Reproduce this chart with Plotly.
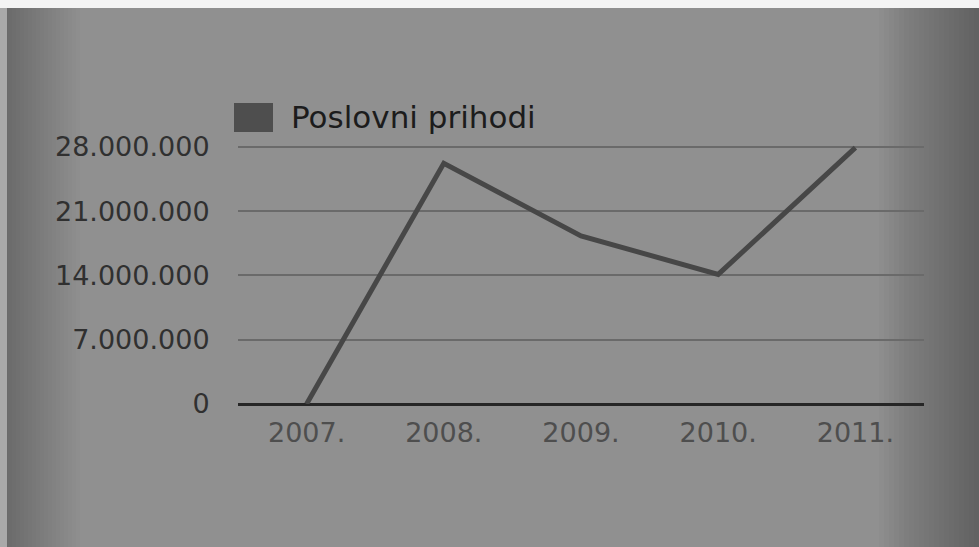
import plotly.graph_objects as go

# ---- data ----
years = ["2007.", "2008.", "2009.", "2010.", "2011."]
prihodi = [0, 26200000, 18300000, 14100000, 27900000]
series_name = "Poslovni prihodi"
y_tickvals = [0, 7000000, 14000000, 21000000, 28000000]
y_ticktext = ["0", "7.000.000", "14.000.000", "21.000.000", "28.000.000"]

W, H = 979, 547
L, R, T, B = 238, 55, 144, 143
PW, PH = W - L - R, H - T - B
FONT = "DejaVu Sans"


def px(x):
    return (x - L) / PW


def py(y):
    return (H - B - y) / PH


fig = go.Figure()
fig.add_trace(go.Scatter(
    x=years, y=prihodi, mode="lines",
    line=dict(color="#474747", width=5),
    showlegend=False, hoverinfo="skip",
))

shapes = []
# soft darkening towards the left and right edges (many thin steps)
for i in range(20):
    w = 100 - i * 5
    shapes.append(dict(type="rect", xref="paper", yref="paper", layer="below",
                       x0=px(0), x1=px(w * 0.8), y0=py(H), y1=py(0),
                       fillcolor="rgba(0,0,0,0.011)", line=dict(width=0)))
    shapes.append(dict(type="rect", xref="paper", yref="paper", layer="below",
                       x0=px(W - w), x1=px(W), y0=py(H), y1=py(0),
                       fillcolor="rgba(0,0,0,0.016)", line=dict(width=0)))
# white page strip at the top, lighter strip at the left edge
shapes.append(dict(type="rect", xref="paper", yref="paper", layer="above",
                   x0=px(0), x1=px(W), y0=py(8), y1=py(0),
                   fillcolor="#f4f4f4", line=dict(width=0)))
shapes.append(dict(type="rect", xref="paper", yref="paper", layer="above",
                   x0=px(0), x1=px(7), y0=py(H), y1=py(8),
                   fillcolor="#a9a9a9", line=dict(width=0)))
# legend swatch
shapes.append(dict(type="rect", xref="paper", yref="paper",
                   x0=px(234), x1=px(273), y0=py(132), y1=py(103),
                   fillcolor="#4e4e4e", line=dict(width=0)))

fig.update_layout(
    width=W, height=H,
    margin=dict(l=L, r=R, t=T, b=B),
    paper_bgcolor="#909090", plot_bgcolor="rgba(0,0,0,0)",
    font=dict(family=FONT, color="#333333"),
    shapes=shapes,
    annotations=[dict(
        text=series_name, xref="paper", yref="paper",
        x=px(289), y=py(117),
        xanchor="left", yanchor="middle", showarrow=False,
        font=dict(family=FONT, size=31, color="#1c1c1c"),
    )],
    xaxis=dict(
        type="category", range=[-0.5, 4.5],
        showgrid=False, zeroline=False, showline=False,
        ticks="outside", ticklen=5, tickcolor="rgba(0,0,0,0)",
        tickfont=dict(family=FONT, size=27, color="#4e4e4e"),
    ),
    yaxis=dict(
        range=[0, 28300000], tickvals=y_tickvals, ticktext=y_ticktext,
        showgrid=True, gridcolor="#6a6a6a", gridwidth=2,
        zeroline=True, zerolinecolor="#262626", zerolinewidth=3,
        showline=False,
        ticks="outside", ticklen=22, tickcolor="rgba(0,0,0,0)",
        tickfont=dict(family=FONT, size=27, color="#303030"),
    ),
)

fig.write_html("out.html")
